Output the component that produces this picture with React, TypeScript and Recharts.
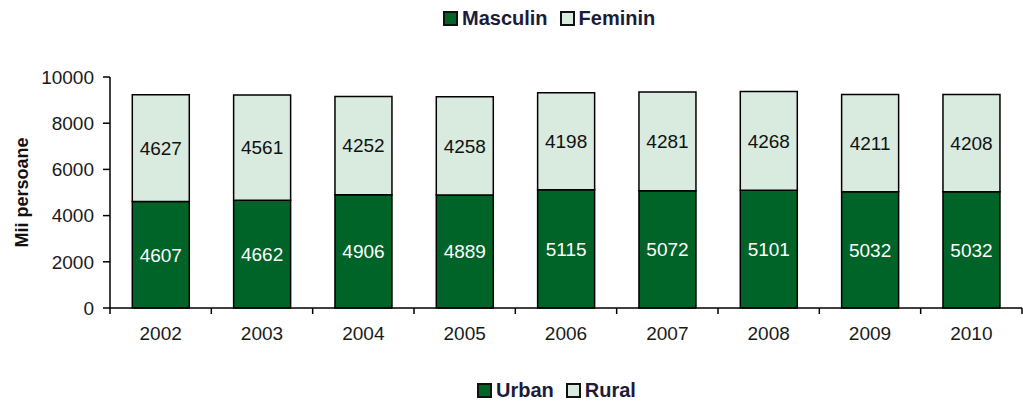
import React from 'react';
import { Bar, BarChart, LabelList, Legend, XAxis, YAxis } from 'recharts';

const years = ['2002', '2003', '2004', '2005', '2006', '2007', '2008', '2009', '2010'];
const urban = [4607, 4662, 4906, 4889, 5115, 5072, 5101, 5032, 5032];
const rural = [4627, 4561, 4252, 4258, 4198, 4281, 4268, 4211, 4208];
const yTicks = [0, 2000, 4000, 6000, 8000, 10000];
const topLegend = ['Masculin', 'Feminin'];
const bottomLegend = ['Urban', 'Rural'];

const DARK = '#006428';
const LIGHT = '#d9ebdf';
const FONT = '"Liberation Sans", Arial, sans-serif';

const data = years.map((y, i) => ({ year: y, urban: urban[i], rural: rural[i] }));

const LegendItems = ({ labels }: { labels: string[] }) => (
  <div style={{ display: 'flex', alignItems: 'center', fontFamily: FONT }}>
    {labels.map((l, i) => (
      <div key={l} style={{ display: 'flex', alignItems: 'center', marginRight: 12 }}>
        <span style={{ width: 11, height: 11, border: '2px solid #111', background: i === 0 ? DARK : LIGHT, marginRight: 4 }} />
        <span style={{ fontSize: 20, fontWeight: 'bold', color: '#1b1b3a' }}>{l}</span>
      </div>
    ))}
  </div>
);

const YearTick = (props: any) => {
  const { x, y, payload, index } = props;
  const off = payload.offset || 0;
  return (
    <g>
      <line x1={x - off} x2={x - off} y1={y} y2={y + 6} stroke="#000" strokeWidth={1.5} />
      {index === years.length - 1 && <line x1={x + off} x2={x + off} y1={y} y2={y + 6} stroke="#000" strokeWidth={1.5} />}
      <text x={x} y={y + 32} textAnchor="middle" fontSize={19} fontFamily={FONT} fill="#1a1a1a">
        {payload.value}
      </text>
    </g>
  );
};

export default function App() {
  return (
    <div style={{ position: 'absolute', left: 0, top: 0, width: 1023, height: 403, background: '#fff' }}>
      <div style={{ position: 'absolute', left: 443, top: 7, zIndex: 1 }}>
        <LegendItems labels={topLegend} />
      </div>
      <BarChart width={1023} height={403} data={data} margin={{ top: 77, right: 1, bottom: 0, left: 0 }} barCategoryGap="22%">
        <Legend
          verticalAlign="bottom"
          wrapperStyle={{ margin: 0, padding: 0 }}
          content={() => (
            <div style={{ height: 55, position: 'relative' }}>
              <div style={{ position: 'absolute', left: 477, bottom: 1 }}>
                <LegendItems labels={bottomLegend} />
              </div>
            </div>
          )}
        />
        <XAxis dataKey="year" height={40} tickLine={false} tickSize={0} tickMargin={0} tick={<YearTick />} axisLine={{ stroke: '#000', strokeWidth: 1.5 }} />
        <YAxis
          width={110}
          domain={[0, 10000]}
          ticks={yTicks}
          tickSize={7}
          tickMargin={9}
          axisLine={{ stroke: '#000', strokeWidth: 1.5 }}
          tickLine={{ stroke: '#000', strokeWidth: 1.5 }}
          tick={{ fontSize: 19, fontFamily: FONT, fill: '#1a1a1a' }}
          label={{ value: 'Mii persoane', angle: -90, position: 'insideLeft', offset: 22, style: { textAnchor: 'middle', fontSize: 18, fontWeight: 'bold', fontFamily: FONT, fill: '#111' } }}
        />
        <Bar dataKey="urban" name="Urban" stackId="a" fill={DARK} stroke="#000" strokeWidth={1.5} isAnimationActive={false}>
          <LabelList dataKey="urban" position="center" fill="#fff" fontSize={19} fontFamily={FONT} />
        </Bar>
        <Bar dataKey="rural" name="Rural" stackId="a" fill={LIGHT} stroke="#000" strokeWidth={1.5} isAnimationActive={false}>
          <LabelList dataKey="rural" position="center" fill="#111" fontSize={19} fontFamily={FONT} />
        </Bar>
      </BarChart>
    </div>
  );
}
